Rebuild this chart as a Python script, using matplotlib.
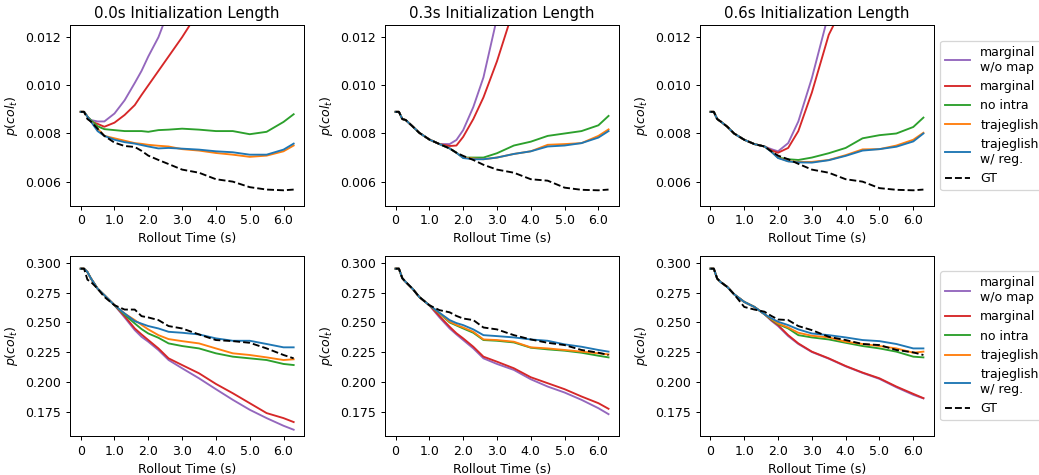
import numpy as np
import matplotlib
matplotlib.use('Agg')
import matplotlib.pyplot as plt

nan = np.nan

# rollout time grid (s)
t = [0, 0.1, 0.2, 0.3, 0.5, 0.7, 1.0, 1.3, 1.6, 1.8, 2.0, 2.3, 2.6, 3.0, 3.5, 4.0, 4.5, 5.0, 5.5, 6.0, 6.3]

init_lengths = ['0.0s', '0.3s', '0.6s']
labels = ['marginal\nw/o map', 'marginal', 'no intra', 'trajeglish', 'trajeglish\nw/ reg.', 'GT']
colors = ['tab:purple', 'tab:red', 'tab:green', 'tab:orange', 'tab:blue', 'black']

# ---- top row: collision rate, 0.0s init ----
top0_wo_map = [0.0089, 0.0089, 0.0087, 0.00856, 0.0085, 0.0085, 0.00883, 0.00938, 0.0101, 0.0106, 0.0112, 0.0120, 0.0131,
               nan, nan, nan, nan, nan, nan, nan, nan]
top0_marginal = [0.0089, 0.0089, 0.0087, 0.0085, 0.0084, 0.00828, 0.00845, 0.00877, 0.00918, 0.0096, 0.0100, 0.0106, 0.0112,
                 0.0120, 0.0131, nan, nan, nan, nan, nan, nan]
top0_no_intra = [0.0089, 0.0089, 0.0087, 0.00856, 0.0083, 0.00818, 0.00814, 0.0081, 0.0081, 0.0081, 0.00807, 0.00814, 0.00816,
                 0.0082, 0.00816, 0.0081, 0.0081, 0.00797, 0.00807, 0.00848, 0.0088]
top0_traj = [0.0089, 0.0089, 0.0087, 0.0085, 0.0082, 0.0079, 0.0078, 0.0077, 0.0076, 0.00757, 0.00753, 0.00749, 0.00746,
             0.00735, 0.00729, 0.00719, 0.00712, 0.00703, 0.00708, 0.00726, 0.0075]
top0_traj_reg = [0.0089, 0.0089, 0.0087, 0.0085, 0.0081, 0.0079, 0.00774, 0.00764, 0.00758, 0.00752, 0.00746, 0.00738, 0.0074,
                 0.00737, 0.00733, 0.00726, 0.00722, 0.00712, 0.00712, 0.00733, 0.00758]
top0_gt = [0.0089, 0.0089, 0.0086, 0.0085, 0.0082, 0.0079, 0.00762, 0.00748, 0.00744, 0.00728, 0.00708, 0.0069, 0.00673,
           0.0065, 0.00637, 0.0061, 0.0060, 0.00577, 0.00567, 0.00564, 0.00567]

# ---- top row: 0.3s init ----
top1_wo_map = [0.0089, 0.0089, 0.0086, 0.00856, 0.0083, 0.00803, 0.00775, 0.00756, 0.00756, 0.00773, 0.00814, 0.0091, 0.01033,
               0.0128, nan, nan, nan, nan, nan, nan, nan]
top1_marginal = [0.0089, 0.0089, 0.0086, 0.00856, 0.0083, 0.00803, 0.00775, 0.00756, 0.00748, 0.0075, 0.00786, 0.0086, 0.0095,
                 0.0110, 0.0132, nan, nan, nan, nan, nan, nan]
top1_no_intra = [0.0089, 0.0089, 0.0086, 0.00856, 0.0083, 0.00803, 0.00775, 0.00756, 0.00738, 0.0072, 0.0070, 0.0070, 0.0070,
                 0.00718, 0.0075, 0.00766, 0.0079, 0.0080, 0.0081, 0.00834, 0.00873]
top1_traj = [0.0089, 0.0089, 0.0086, 0.00856, 0.0083, 0.00803, 0.00775, 0.00756, 0.00738, 0.0072, 0.0070, 0.00696, 0.00693,
             0.0070, 0.00715, 0.00726, 0.00753, 0.00756, 0.0076, 0.0079, 0.00817]
top1_traj_reg = [0.0089, 0.0089, 0.0086, 0.00856, 0.0083, 0.00803, 0.00775, 0.00756, 0.00738, 0.0072, 0.00698, 0.00693, 0.00693,
                 0.0070, 0.00715, 0.00726, 0.00746, 0.0075, 0.0076, 0.00783, 0.0081]
top1_gt = [0.0089, 0.0089, 0.0086, 0.00856, 0.0083, 0.00803, 0.00775, 0.00756, 0.00738, 0.0072, 0.00707, 0.0069, 0.0067,
           0.0065, 0.00637, 0.0061, 0.00604, 0.00575, 0.00566, 0.00564, 0.00567]

# ---- top row: 0.6s init ----
top2_wo_map = [0.0089, 0.0089, 0.0086, 0.0085, 0.00828, 0.0080, 0.00774, 0.00756, 0.00746, 0.00735, 0.00726, 0.0076, 0.0085,
               0.0103, 0.0130, nan, nan, nan, nan, nan, nan]
top2_marginal = [0.0089, 0.0089, 0.0086, 0.0085, 0.00828, 0.0080, 0.00774, 0.00756, 0.00746, 0.0073, 0.0072, 0.0074, 0.0081,
                 0.0097, 0.0121, 0.0135, nan, nan, nan, nan, nan]
top2_no_intra = [0.0089, 0.0089, 0.0086, 0.0085, 0.00828, 0.0080, 0.00774, 0.00756, 0.00746, 0.00726, 0.0070, 0.00693, 0.0069,
                 0.0070, 0.00718, 0.0074, 0.0078, 0.00793, 0.0080, 0.00827, 0.00866]
top2_traj = [0.0089, 0.0089, 0.0086, 0.0085, 0.00828, 0.0080, 0.00774, 0.00756, 0.00746, 0.00726, 0.0070, 0.00685, 0.00682,
             0.00682, 0.0069, 0.0071, 0.00734, 0.00735, 0.0075, 0.00774, 0.00803]
top2_traj_reg = [0.0089, 0.0089, 0.0086, 0.0085, 0.00828, 0.0080, 0.00774, 0.00756, 0.00746, 0.00724, 0.00698, 0.00684, 0.0068,
                 0.00679, 0.00689, 0.00707, 0.00729, 0.00735, 0.00745, 0.00767, 0.0080]
top2_gt = [0.0089, 0.0089, 0.0086, 0.0085, 0.00828, 0.0080, 0.00774, 0.00756, 0.00746, 0.00726, 0.00708, 0.00693, 0.00674,
           0.0065, 0.00637, 0.0061, 0.0060, 0.00573, 0.00566, 0.00564, 0.00567]

# ---- bottom row: 0.0s init ----
bot0_wo_map = [0.295, 0.295, 0.2922, 0.287, 0.2783, 0.2728, 0.2644, 0.2542, 0.2436, 0.238, 0.2339, 0.2269, 0.2186,
               0.2117, 0.2033, 0.1942, 0.1853, 0.177, 0.170, 0.1636, 0.1603]
bot0_marginal = [0.295, 0.295, 0.2922, 0.287, 0.2783, 0.2728, 0.2644, 0.2553, 0.245, 0.240, 0.2353, 0.2283, 0.220,
                 0.2144, 0.2075, 0.1986, 0.1908, 0.1825, 0.1742, 0.170, 0.1667]
bot0_no_intra = [0.295, 0.295, 0.2922, 0.287, 0.2783, 0.2728, 0.2644, 0.2565, 0.2492, 0.2445, 0.2408, 0.2372, 0.2325,
                 0.2303, 0.2283, 0.2242, 0.2214, 0.220, 0.2186, 0.2153, 0.2144]
bot0_traj = [0.295, 0.295, 0.2922, 0.287, 0.2783, 0.2728, 0.2644, 0.2575, 0.252, 0.248, 0.2442, 0.2394, 0.2361,
             0.2344, 0.2325, 0.2283, 0.2242, 0.2228, 0.2208, 0.2186, 0.2192]
bot0_traj_reg = [0.295, 0.295, 0.2922, 0.287, 0.2783, 0.2728, 0.2644, 0.2575, 0.2511, 0.249, 0.247, 0.245, 0.2422,
                 0.2414, 0.240, 0.2367, 0.2347, 0.2347, 0.232, 0.2292, 0.2292]
bot0_gt = [0.295, 0.295, 0.2858, 0.284, 0.2783, 0.2714, 0.2644, 0.2608, 0.2608, 0.2553, 0.2542, 0.252, 0.247,
           0.245, 0.240, 0.2353, 0.2344, 0.233, 0.2283, 0.2228, 0.220]

# ---- bottom row: 0.3s init ----
bot1_wo_map = [0.295, 0.295, 0.287, 0.2839, 0.2783, 0.2714, 0.2644, 0.2542, 0.245, 0.240, 0.2353, 0.2283, 0.220,
               0.2153, 0.2103, 0.2025, 0.1964, 0.1914, 0.1853, 0.1783, 0.1733]
bot1_marginal = [0.295, 0.295, 0.287, 0.2839, 0.2783, 0.2714, 0.2644, 0.2553, 0.2464, 0.241, 0.2367, 0.2297, 0.2214,
                 0.2172, 0.2117, 0.2042, 0.1992, 0.1942, 0.1881, 0.1825, 0.1778]
bot1_no_intra = [0.295, 0.295, 0.287, 0.2839, 0.2783, 0.2714, 0.2644, 0.2575, 0.250, 0.2475, 0.245, 0.2414, 0.2353,
                 0.2347, 0.2333, 0.2289, 0.2275, 0.2264, 0.2247, 0.2222, 0.2208]
bot1_traj = [0.295, 0.295, 0.287, 0.2839, 0.2783, 0.2714, 0.2644, 0.2578, 0.2506, 0.248, 0.2458, 0.2422, 0.2358,
             0.2353, 0.2339, 0.2292, 0.2283, 0.227, 0.2256, 0.2242, 0.2233]
bot1_traj_reg = [0.295, 0.295, 0.287, 0.2839, 0.2783, 0.2714, 0.2644, 0.2581, 0.252, 0.2495, 0.2478, 0.2442, 0.2394,
                 0.2386, 0.2375, 0.2358, 0.2347, 0.2317, 0.2297, 0.227, 0.2256]
bot1_gt = [0.295, 0.295, 0.287, 0.2839, 0.2783, 0.2714, 0.2644, 0.2603, 0.2585, 0.2555, 0.2533, 0.252, 0.2458,
           0.2442, 0.2394, 0.2358, 0.233, 0.2311, 0.227, 0.2247, 0.2228]

# ---- bottom row: 0.6s init ----
bot2_wo_map = [0.295, 0.295, 0.2867, 0.2839, 0.2797, 0.2736, 0.2672, 0.263, 0.2569, 0.2515, 0.247, 0.2386, 0.232,
               0.2253, 0.2197, 0.2133, 0.2078, 0.2028, 0.1958, 0.1895, 0.1865]
bot2_marginal = [0.295, 0.295, 0.2867, 0.2839, 0.2797, 0.2736, 0.2672, 0.263, 0.2569, 0.252, 0.2478, 0.2394, 0.2325,
                 0.2256, 0.220, 0.2136, 0.2081, 0.2033, 0.1964, 0.1903, 0.1867]
bot2_no_intra = [0.295, 0.295, 0.2867, 0.2839, 0.2797, 0.2736, 0.2672, 0.263, 0.2569, 0.2525, 0.2486, 0.245, 0.2394,
                 0.2375, 0.2358, 0.233, 0.2303, 0.2283, 0.2256, 0.2214, 0.2208]
bot2_traj = [0.295, 0.295, 0.2867, 0.2839, 0.2797, 0.2736, 0.2672, 0.263, 0.2569, 0.253, 0.2492, 0.2458, 0.2414,
             0.2389, 0.2375, 0.2339, 0.232, 0.2303, 0.2283, 0.2247, 0.2256]
bot2_traj_reg = [0.295, 0.295, 0.2867, 0.2839, 0.2797, 0.2736, 0.2672, 0.263, 0.2569, 0.2535, 0.2506, 0.2478, 0.2442,
                 0.2408, 0.2394, 0.2375, 0.2353, 0.2344, 0.232, 0.2283, 0.2283]
bot2_gt = [0.295, 0.295, 0.2867, 0.2839, 0.2797, 0.2736, 0.263, 0.2608, 0.259, 0.2555, 0.2525, 0.252, 0.247,
           0.2436, 0.238, 0.2353, 0.232, 0.2311, 0.227, 0.225, 0.2228]

top_row = [
    [top0_wo_map, top0_marginal, top0_no_intra, top0_traj, top0_traj_reg, top0_gt],
    [top1_wo_map, top1_marginal, top1_no_intra, top1_traj, top1_traj_reg, top1_gt],
    [top2_wo_map, top2_marginal, top2_no_intra, top2_traj, top2_traj_reg, top2_gt],
]
bottom_row = [
    [bot0_wo_map, bot0_marginal, bot0_no_intra, bot0_traj, bot0_traj_reg, bot0_gt],
    [bot1_wo_map, bot1_marginal, bot1_no_intra, bot1_traj, bot1_traj_reg, bot1_gt],
    [bot2_wo_map, bot2_marginal, bot2_no_intra, bot2_traj, bot2_traj_reg, bot2_gt],
]

xticks = [0, 1, 2, 3, 4, 5, 6]
xtick_labels = ['0', '1.0', '2.0', '3.0', '4.0', '5.0', '6.0']

# figure drawn at 90 dpi, 1039x475 px
DPI = 90
fig, axes = plt.subplots(2, 3, figsize=(1039 / DPI, 475 / DPI), dpi=DPI)
plt.subplots_adjust(left=0.0674, right=0.899, top=0.947, bottom=0.082, wspace=0.344, hspace=0.276)

for row, data_row in enumerate([top_row, bottom_row]):
    for col in range(3):
        ax = axes[row, col]
        for i, series in enumerate(data_row[col]):
            ls = '--' if labels[i] == 'GT' else '-'
            ax.plot(t, series, color=colors[i], linestyle=ls, linewidth=1.5, label=labels[i])
        ax.set_xticks(xticks)
        ax.set_xticklabels(xtick_labels)
        ax.set_xlim(-0.315, 6.615)
        ax.set_xlabel('Rollout Time (s)')
        ax.set_ylabel('$p(col_t)$')
        if row == 0:
            ax.set_ylim(0.005, 0.0125)
            ax.set_yticks([0.006, 0.008, 0.010, 0.012])
            ax.set_title(init_lengths[col] + ' Initialization Length', fontsize=12)
        else:
            ax.set_ylim(0.155, 0.306)
            ax.set_yticks([0.175, 0.200, 0.225, 0.250, 0.275, 0.300])
        if col == 2:
            ax.legend(loc='center left', bbox_to_anchor=(1.0, 0.5))

plt.savefig('out.png', dpi=DPI)
